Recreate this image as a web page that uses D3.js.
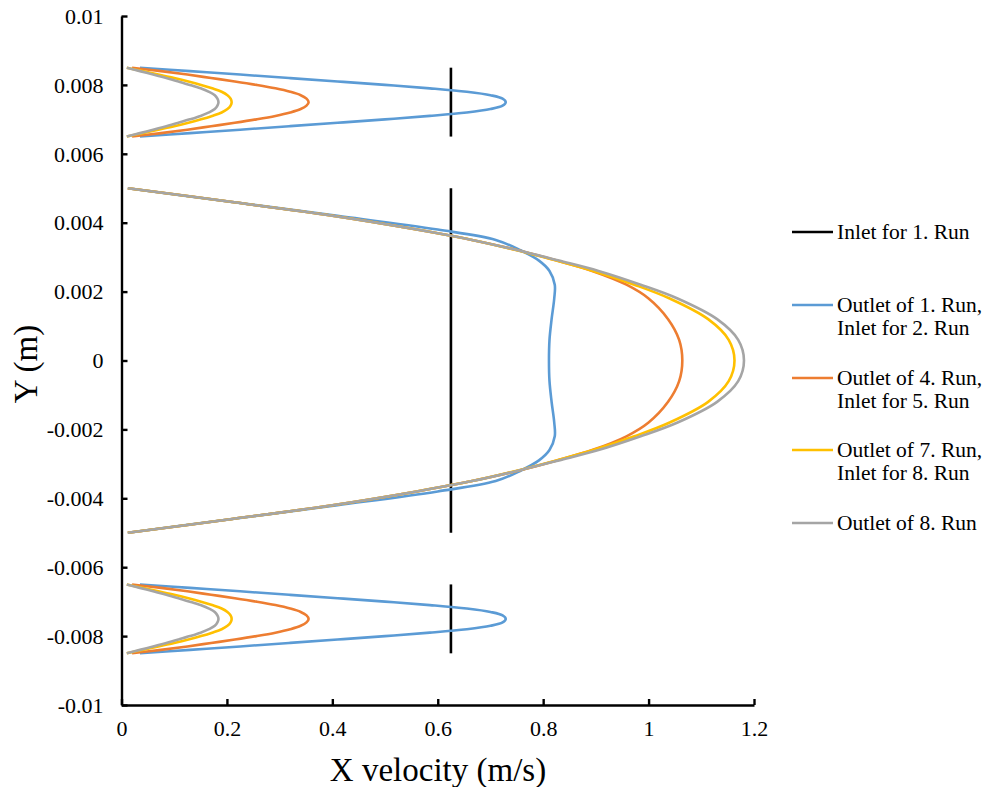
<!DOCTYPE html>
<html>
<head>
<meta charset="utf-8">
<script src="https://cdn.jsdelivr.net/npm/d3@7"></script>
<style>
  html, body { margin: 0; padding: 0; background: #fff; }
  svg { display: block; }
  text { font-family: "Liberation Serif", "Times New Roman", serif; fill: #000; }
</style>
</head>
<body>
<svg id="chart" width="986" height="787"></svg>
<script>
// ---------- data ----------
const xTicks = [0, 0.2, 0.4, 0.6, 0.8, 1, 1.2];
const yTicks = [0.01, 0.008, 0.006, 0.004, 0.002, 0, -0.002, -0.004, -0.006, -0.008, -0.01];

const seriesNames = ["Inlet for 1. Run", "Outlet of 1. Run,|Inlet for 2. Run", "Outlet of 4. Run,|Inlet for 5. Run", "Outlet of 7. Run,|Inlet for 8. Run", "Outlet of 8. Run"];
const seriesColors = ["#000000", "#5B9BD5", "#ED7D31", "#FFC000", "#A5A5A5"];

// Inlet (uniform) profile: x velocity 0.625 over each channel
const inletVelocity = 0.625;
const inletTopY = [0.0085, 0.0065];
const inletMainY = [0.005, -0.005];
const inletBottomY = [-0.0065, -0.0085];

// Y positions of the profile points
const ySmallTop = [0.0085, 0.0084, 0.0083, 0.0082, 0.0081, 0.008, 0.0079, 0.0078, 0.0077, 0.0076, 0.0075,
                   0.0074, 0.0073, 0.0072, 0.0071, 0.007, 0.0069, 0.0068, 0.0067, 0.0066, 0.0065];
const ySmallBottom = [-0.0065, -0.0066, -0.0067, -0.0068, -0.0069, -0.007, -0.0071, -0.0072, -0.0073, -0.0074, -0.0075,
                      -0.0076, -0.0077, -0.0078, -0.0079, -0.008, -0.0081, -0.0082, -0.0083, -0.0084, -0.0085];
const yMain = [0.005, 0.0046, 0.0042, 0.0038, 0.0035, 0.0032, 0.0029, 0.0026, 0.0022, 0.0018, 0.0012, 0.0006, 0,
               -0.0006, -0.0012, -0.0018, -0.0022, -0.0026, -0.0029, -0.0032, -0.0035, -0.0038, -0.0042, -0.0046, -0.005];

// X velocities (m/s)
const run1Small = [0.035, 0.13, 0.225, 0.318, 0.41, 0.50, 0.585, 0.655, 0.70, 0.723, 0.729,
                   0.723, 0.70, 0.655, 0.585, 0.50, 0.41, 0.318, 0.225, 0.13, 0.035];
const run4Small = [0.02, 0.075, 0.125, 0.17, 0.215, 0.256, 0.292, 0.32, 0.34, 0.351, 0.355,
                   0.351, 0.34, 0.32, 0.292, 0.256, 0.215, 0.17, 0.125, 0.075, 0.02];
const run7Small = [0.01, 0.04, 0.07, 0.10, 0.127, 0.151, 0.172, 0.19, 0.201, 0.207, 0.209,
                   0.207, 0.201, 0.19, 0.172, 0.151, 0.127, 0.10, 0.07, 0.04, 0.01];
const run8Small = [0.01, 0.035, 0.06, 0.085, 0.108, 0.13, 0.15, 0.166, 0.177, 0.182, 0.184,
                   0.182, 0.177, 0.166, 0.15, 0.13, 0.108, 0.085, 0.06, 0.035, 0.01];

const run1Main = [0.012, 0.21, 0.41, 0.60, 0.71, 0.757, 0.792, 0.812, 0.822, 0.821, 0.816, 0.812, 0.811,
                  0.812, 0.816, 0.821, 0.822, 0.812, 0.792, 0.757, 0.71, 0.60, 0.41, 0.21, 0.012];
const run4Main = [0.012, 0.21, 0.40, 0.56, 0.665, 0.752, 0.826, 0.893, 0.958, 1.0, 1.037, 1.058, 1.064,
                  1.058, 1.037, 1.0, 0.958, 0.893, 0.826, 0.752, 0.665, 0.56, 0.40, 0.21, 0.012];
const run7Main = [0.012, 0.21, 0.40, 0.56, 0.665, 0.75, 0.825, 0.895, 0.973, 1.04, 1.113, 1.152, 1.163,
                  1.152, 1.113, 1.04, 0.973, 0.895, 0.825, 0.75, 0.665, 0.56, 0.40, 0.21, 0.012];
const run8Main = [0.012, 0.21, 0.40, 0.56, 0.665, 0.752, 0.83, 0.905, 0.985, 1.055, 1.13, 1.17, 1.181,
                  1.17, 1.13, 1.055, 0.985, 0.905, 0.83, 0.752, 0.665, 0.56, 0.40, 0.21, 0.012];

// ---------- build series ----------
const zip = (xs, ys) => ys.map((y, i) => ({x: xs[i], y}));
const inletSegs = [inletTopY, inletMainY, inletBottomY].map(ys => ys.map(y => ({x: inletVelocity, y})));
const series = [
  {segs: inletSegs, curve: d3.curveLinear},
  {segs: [zip(run1Small, ySmallTop), zip(run1Main, yMain), zip(run1Small, ySmallBottom)], curve: d3.curveCatmullRom},
  {segs: [zip(run4Small, ySmallTop), zip(run4Main, yMain), zip(run4Small, ySmallBottom)], curve: d3.curveCatmullRom},
  {segs: [zip(run7Small, ySmallTop), zip(run7Main, yMain), zip(run7Small, ySmallBottom)], curve: d3.curveCatmullRom},
  {segs: [zip(run8Small, ySmallTop), zip(run8Main, yMain), zip(run8Small, ySmallBottom)], curve: d3.curveCatmullRom}
];

// ---------- chart ----------
const svg = d3.select("#chart");
const x = d3.scaleLinear().domain([0, 1.2]).range([121.5, 754]);
const y = d3.scaleLinear().domain([-0.01, 0.01]).range([705, 16]);

// series
series.forEach((s, i) => {
  const line = d3.line().x(d => x(d.x)).y(d => y(d.y)).curve(s.curve);
  svg.append("g").selectAll("path").data(s.segs).join("path")
    .attr("d", line)
    .attr("fill", "none")
    .attr("stroke", seriesColors[i])
    .attr("stroke-width", 2.6)
    .attr("stroke-linejoin", "round")
    .attr("stroke-linecap", "butt");
});

// axes (ticks inside)
const xAxis = d3.axisBottom(x).tickValues(xTicks).tickSizeInner(-6).tickSizeOuter(0).tickFormat(d3.format("~g"));
const yAxis = d3.axisLeft(y).tickValues(yTicks).tickSizeInner(-6).tickSizeOuter(0).tickFormat(d => d === 0 ? "0" : d3.format("~g")(d).replace("−", "-"));

const gx = svg.append("g").attr("transform", `translate(0,${y(-0.01)})`).call(xAxis);
const gy = svg.append("g").attr("transform", `translate(${x(0)},0)`).call(yAxis);

[gx, gy].forEach(g => {
  g.attr("font-family", null);
  g.select(".domain").attr("stroke", "#000").attr("stroke-width", 2.4);
  g.selectAll(".tick line").attr("stroke", "#000").attr("stroke-width", 2.4);
  g.selectAll(".tick text").style("font-family", "'Liberation Serif', serif").attr("font-size", 22).attr("fill", "#000");
});
gx.selectAll(".tick text").attr("y", 15).attr("dy", "0.71em");
gy.selectAll(".tick text").attr("x", -18).attr("dy", "0.33em");

// axis titles
svg.append("text").attr("x", 438).attr("y", 781).attr("text-anchor", "middle")
  .attr("font-size", 33).text("X velocity (m/s)");
svg.append("text").attr("transform", "translate(37,364) rotate(-90)").attr("text-anchor", "middle")
  .attr("font-size", 33).text("Y (m)");

// legend
const legendY = [232, 305, 378, 450, 523];
const legend = svg.append("g");
seriesNames.forEach((name, i) => {
  const g = legend.append("g").attr("transform", `translate(0,${legendY[i]})`);
  g.append("line").attr("x1", 792).attr("x2", 833).attr("y1", 0).attr("y2", 0)
    .attr("stroke", seriesColors[i]).attr("stroke-width", 2.6);
  const lines = name.split("|");
  lines.forEach((t, j) => {
    g.append("text").attr("x", 837).attr("y", j * 23.3).attr("dy", "0.33em")
      .attr("font-size", 21.5).text(t);
  });
});
</script>
</body>
</html>
